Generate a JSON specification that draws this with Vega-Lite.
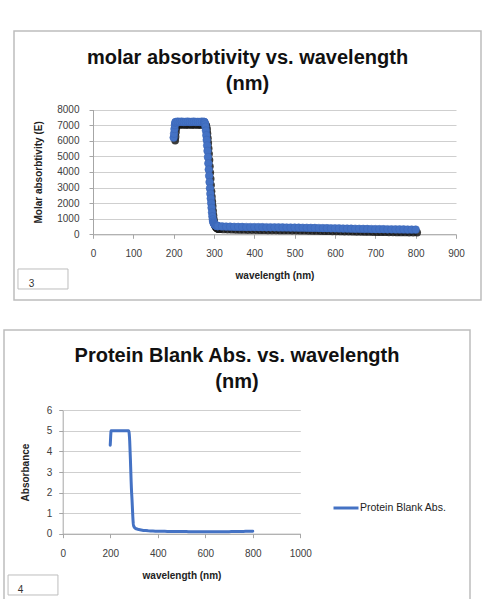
{
  "$schema": "https://vega.github.io/schema/vega-lite/v6.json",
  "background": "white",
  "padding": {"left": 3, "top": 30, "right": 0, "bottom": 0},
  "datasets": {
    "spec": [
      {"w":200,"e":6200,"a":4.3},{"w":201,"e":6450,"a":4.5},{"w":202,"e":6750,"a":4.75},{"w":203,"e":7000,"a":4.95},{"w":204,"e":7150,"a":5.0},
      {"w":205,"e":7200,"a":5.0},{"w":210,"e":7220,"a":5.0},{"w":215,"e":7210,"a":5.0},{"w":220,"e":7220,"a":5.0},{"w":225,"e":7200,"a":5.0},
      {"w":230,"e":7210,"a":5.0},{"w":235,"e":7220,"a":5.0},{"w":240,"e":7200,"a":5.0},{"w":245,"e":7210,"a":5.0},{"w":250,"e":7220,"a":5.0},
      {"w":255,"e":7200,"a":5.0},{"w":260,"e":7210,"a":5.0},{"w":265,"e":7200,"a":5.0},{"w":270,"e":7220,"a":5.0},{"w":275,"e":7210,"a":5.0},
      {"w":276,"e":7200,"a":5.0},{"w":277,"e":7150,"a":5.0},{"w":278,"e":7050,"a":4.98},{"w":279,"e":6900,"a":4.95},{"w":280,"e":6650,"a":4.85},
      {"w":281,"e":6350,"a":4.7},{"w":282,"e":6050,"a":4.5},{"w":283,"e":5700,"a":4.2},{"w":284,"e":5350,"a":3.9},{"w":285,"e":4950,"a":3.6},
      {"w":286,"e":4550,"a":3.25},{"w":287,"e":4150,"a":2.9},{"w":288,"e":3750,"a":2.55},{"w":289,"e":3350,"a":2.25},{"w":290,"e":2950,"a":2.0},
      {"w":291,"e":2600,"a":1.8},{"w":292,"e":2300,"a":1.6},{"w":293,"e":2000,"a":1.35},{"w":294,"e":1700,"a":1.1},{"w":295,"e":1400,"a":0.85},
      {"w":296,"e":1150,"a":0.65},{"w":297,"e":950,"a":0.5},{"w":298,"e":820,"a":0.42},{"w":299,"e":740,"a":0.37},{"w":300,"e":700,"a":0.34},
      {"w":301,"e":660,"a":0.32},{"w":302,"e":630,"a":0.3},{"w":303,"e":605,"a":0.29},{"w":304,"e":585,"a":0.28},{"w":305,"e":570,"a":0.27},
      {"w":306,"e":555,"a":0.26},{"w":307,"e":545,"a":0.25},{"w":308,"e":535,"a":0.25},{"w":309,"e":528,"a":0.24},{"w":310,"e":520,"a":0.24},
      {"w":320,"e":505,"a":0.2},{"w":330,"e":495,"a":0.18},{"w":340,"e":488,"a":0.16},{"w":350,"e":480,"a":0.15},{"w":360,"e":475,"a":0.14},
      {"w":370,"e":470,"a":0.135},{"w":380,"e":466,"a":0.13},{"w":390,"e":463,"a":0.125},{"w":400,"e":460,"a":0.12},{"w":410,"e":457,"a":0.118},
      {"w":420,"e":454,"a":0.116},{"w":430,"e":451,"a":0.114},{"w":440,"e":448,"a":0.112},{"w":450,"e":445,"a":0.11},{"w":460,"e":442,"a":0.108},
      {"w":470,"e":439,"a":0.106},{"w":480,"e":436,"a":0.105},{"w":490,"e":433,"a":0.104},{"w":500,"e":430,"a":0.103},{"w":510,"e":425,"a":0.102},
      {"w":520,"e":420,"a":0.101},{"w":530,"e":415,"a":0.1},{"w":540,"e":410,"a":0.1},{"w":550,"e":405,"a":0.1},{"w":560,"e":400,"a":0.1},
      {"w":570,"e":395,"a":0.1},{"w":580,"e":390,"a":0.1},{"w":590,"e":385,"a":0.1},{"w":600,"e":380,"a":0.1},{"w":610,"e":375,"a":0.1},
      {"w":620,"e":370,"a":0.1},{"w":630,"e":365,"a":0.1},{"w":640,"e":360,"a":0.1},{"w":650,"e":355,"a":0.1},{"w":660,"e":350,"a":0.1},
      {"w":670,"e":345,"a":0.1},{"w":680,"e":340,"a":0.1},{"w":690,"e":335,"a":0.1},{"w":700,"e":330,"a":0.1},{"w":710,"e":327,"a":0.102},
      {"w":720,"e":324,"a":0.104},{"w":730,"e":321,"a":0.106},{"w":740,"e":318,"a":0.108},{"w":750,"e":315,"a":0.11},{"w":760,"e":312,"a":0.112},
      {"w":770,"e":309,"a":0.114},{"w":780,"e":306,"a":0.116},{"w":790,"e":303,"a":0.118},{"w":800,"e":300,"a":0.12}
    ],
    "box": [{}]
  },
  "config": {
    "view": {"stroke": "#BDBDBD", "strokeWidth": 1.5},
    "font": "Liberation Sans",
    "axis": {
      "labelFont": "Liberation Sans", "labelFontSize": 10, "labelColor": "#404040",
      "titleFont": "Liberation Sans", "titleFontSize": 10, "titleFontWeight": "bold", "titleColor": "#222222",
      "domainColor": "#A6A6A6", "tickColor": "#A6A6A6", "gridColor": "#CFCFCF", "tickSize": 4,
      "labelFlush": false, "labelOverlap": false
    },
    "title": {"font": "Liberation Sans", "fontSize": 20, "fontWeight": "bold", "color": "#111111", "lineHeight": 26, "anchor": "middle", "frame": "group"}
  },
  "resolve": {"legend": {"color": "independent"}, "scale": {"color": "independent"}},
  "spacing": 28,
  "bounds": "full",
  "vconcat": [
    {
      "spacing": 0,
      "bounds": "full",
      "hconcat": [
        {"width": 9, "height": 269, "view": {"stroke": null}, "data": {"name": "box"}, "mark": {"type": "point", "opacity": 0}},
        {
          "width": 467, "height": 269,
          "title": {"text": ["molar absorbtivity vs. wavelength", "(nm)"], "offset": -63},
          "layer": [
            {
              "data": {"name": "spec"},
              "mark": {"type": "point", "shape": "circle", "filled": true, "size": 60, "color": "#1a1a1a", "opacity": 0.85, "xOffset": 1.5, "yOffset": 3},
              "encoding": {
                "x": {"field": "w", "type": "quantitative",
                  "scale": {"domain": [0, 900], "range": [79, 442], "nice": false, "zero": false},
                  "axis": {"title": "wavelength (nm)", "values": [0,100,200,300,400,500,600,700,800,900], "tickCount": 10, "format": "d", "grid": false, "offset": -65.7, "labelPadding": 10, "titlePadding": 12, "labelOverlap": false}},
                "y": {"field": "e", "type": "quantitative",
                  "scale": {"domain": [0, 8000], "range": [203.3, 78.5], "nice": false, "zero": false},
                  "axis": {"title": "Molar absorbtivity (E)", "values": [0,1000,2000,3000,4000,5000,6000,7000,8000], "tickCount": 9, "format": "d", "grid": true, "offset": -79, "labelPadding": 10, "titlePadding": 13, "labelOverlap": false}}
              }
            },
            {
              "data": {"name": "spec"},
              "mark": {"type": "point", "shape": "circle", "filled": true, "size": 60, "color": "#4472C4", "opacity": 1, "stroke": "#3A65B5", "strokeWidth": 0.5},
              "encoding": {
                "x": {"field": "w", "type": "quantitative"},
                "y": {"field": "e", "type": "quantitative"}
              }
            },
            {
              "data": {"name": "box"},
              "mark": {"type": "rect", "fill": "white", "stroke": "#BDBDBD", "strokeWidth": 1},
              "encoding": {"x": {"datum": -186}, "x2": {"datum": -62}, "y": {"datum": -2224}, "y2": {"datum": -3506}}
            },
            {
              "data": {"name": "box"},
              "mark": {"type": "text", "text": "3", "align": "left", "baseline": "middle", "fontSize": 10, "color": "#333333"},
              "encoding": {"x": {"datum": -159}, "y": {"datum": -3167}}
            }
          ]
        }
      ]
    },
    {
      "width": 466, "height": 270,
      "title": {"text": ["Protein Blank Abs. vs. wavelength", "(nm)"], "offset": -62},
      "layer": [
        {
          "data": {"name": "spec"},
          "mark": {"type": "line", "strokeWidth": 3, "strokeJoin": "round", "strokeCap": "round"},
          "encoding": {
            "x": {"field": "w", "type": "quantitative",
              "scale": {"domain": [0, 1000], "range": [58.7, 296.3], "nice": false, "zero": false},
              "axis": {"title": "wavelength (nm)", "values": [0,200,400,600,800,1000], "format": "d", "grid": false, "offset": -66.3, "labelPadding": 11, "titlePadding": 12, "labelOverlap": false}},
            "y": {"field": "a", "type": "quantitative",
              "scale": {"domain": [0, 6], "range": [203.7, 80.3], "nice": false, "zero": false},
              "axis": {"title": "Absorbance", "values": [0,1,2,3,4,5,6], "format": "d", "grid": true, "offset": -58.7, "labelPadding": 7, "titlePadding": 16, "labelOverlap": false}},
            "color": {"datum": "Protein Blank Abs.", "scale": {"range": ["#4472C4"]},
              "legend": {"orient": "none", "legendX": 328, "legendY": 164, "title": null, "symbolType": "stroke", "symbolSize": 625, "symbolStrokeWidth": 3, "labelFontSize": 10.5, "labelFont": "Liberation Sans", "labelColor": "#222222", "labelOffset": 0, "padding": 0}}
          }
        },
        {
          "data": {"name": "box"},
          "mark": {"type": "rect", "fill": "white", "stroke": "#BDBDBD", "strokeWidth": 1},
          "encoding": {"x": {"datum": -230}, "x2": {"datum": -20}, "y": {"datum": -2.008}, "y2": {"datum": -2.98}}
        },
        {
          "data": {"name": "box"},
          "mark": {"type": "text", "text": "4", "align": "left", "baseline": "middle", "fontSize": 10, "color": "#333333"},
          "encoding": {"x": {"datum": -189}, "y": {"datum": -2.72}}
        }
      ]
    }
  ]
}
